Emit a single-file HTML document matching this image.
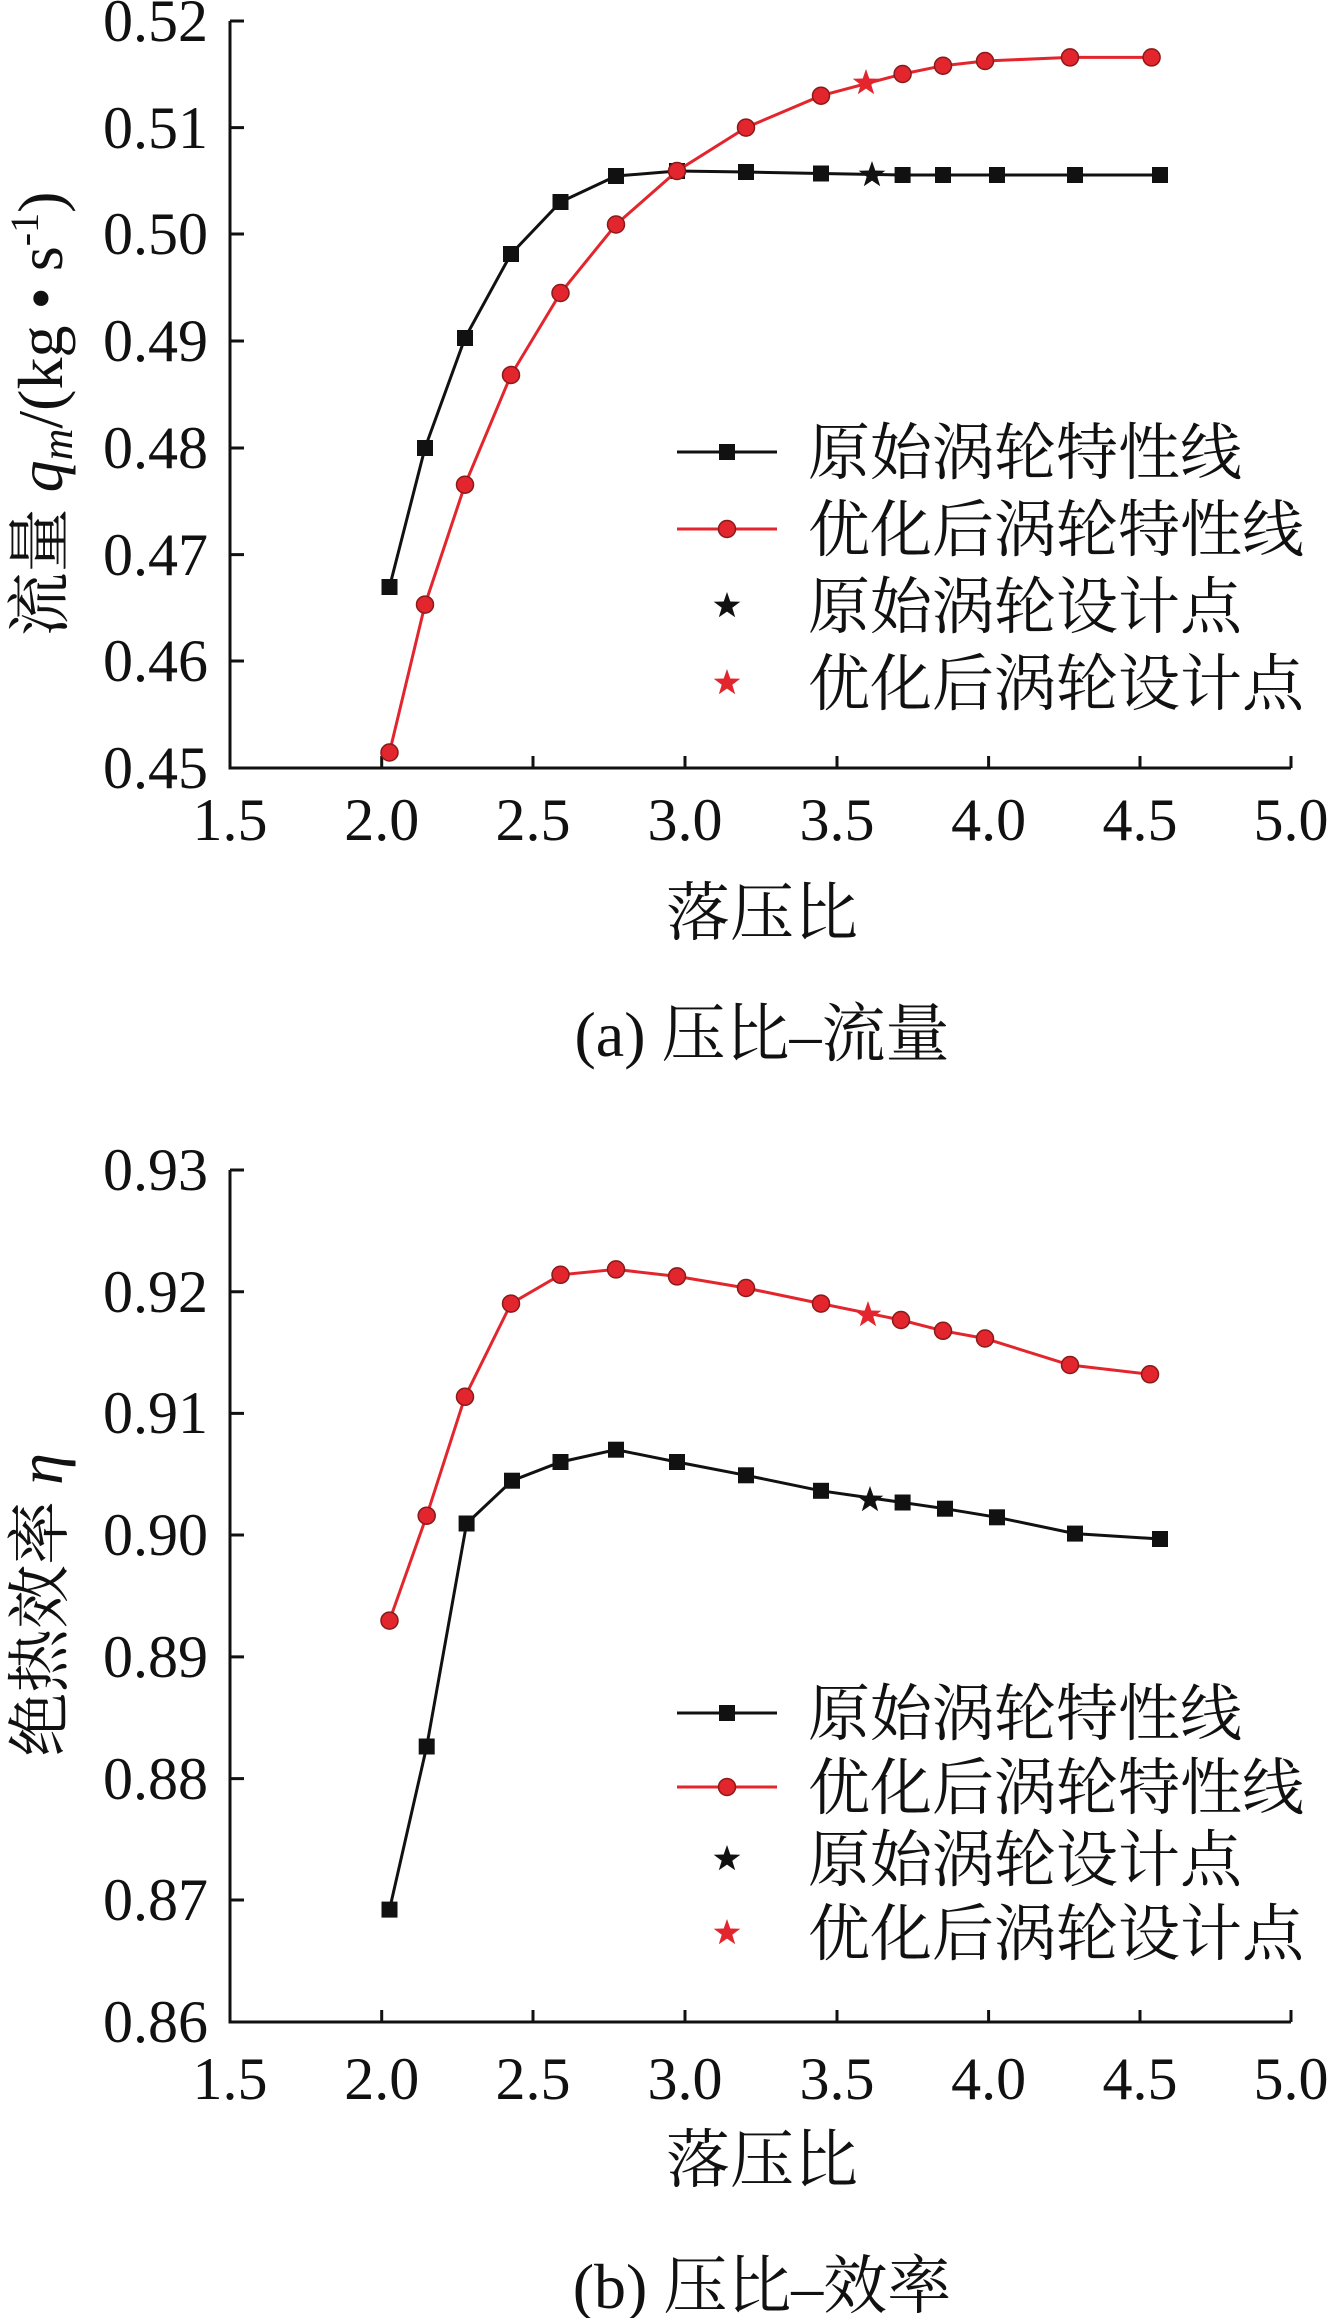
<!DOCTYPE html>
<html><head><meta charset="utf-8"><style>
body{margin:0;background:#fff}
svg{display:block}
text{font-family:"Liberation Serif","Noto Serif CJK SC",serif;fill:#111}
.t{font-size:60px}
.l{font-size:62px}
.x{font-size:64px}
</style></head><body>
<svg width="1328" height="2318" viewBox="0 0 1328 2318" xmlns="http://www.w3.org/2000/svg">
<defs>
<rect id="sq" x="-8" y="-8" width="16" height="16" fill="#111"/>
<circle id="ci" r="8.5" fill="#e3262d" stroke="#8a1a1a" stroke-width="1.5"/>
<polygon id="st" points="0,-14 3.3,-4.5 13.3,-4.3 5.3,1.7 8.2,11.3 0,5.6 -8.2,11.3 -5.3,1.7 -13.3,-4.3 -3.3,-4.5"/>
</defs>

<!-- ===== Chart A ===== -->
<g stroke="#111" stroke-width="3" fill="none">
<polyline points="230,21 230,768 1291,768"/>
<path d="M230,21h14M230,127.6h14M230,234h14M230,341h14M230,448h14M230,554.6h14M230,661h14
M381.7,768v-12M533,768v-12M685,768v-12M837,768v-12M988.6,768v-12M1140,768v-12M1291,768v-12"/>
</g>
<g class="t" text-anchor="end">
<text x="208" y="41">0.52</text><text x="208" y="148">0.51</text><text x="208" y="254">0.50</text>
<text x="208" y="361">0.49</text><text x="208" y="468">0.48</text><text x="208" y="575">0.47</text>
<text x="208" y="681">0.46</text><text x="208" y="788">0.45</text>
</g>
<g class="t" text-anchor="middle">
<text x="230" y="840">1.5</text><text x="381.7" y="840">2.0</text><text x="533" y="840">2.5</text>
<text x="685" y="840">3.0</text><text x="837" y="840">3.5</text><text x="988.6" y="840">4.0</text>
<text x="1140" y="840">4.5</text><text x="1291" y="840">5.0</text>
</g>
<text class="x" x="762" y="935" text-anchor="middle">落压比</text>
<text class="x" x="762" y="1056" text-anchor="middle">(a) 压比–流量</text>
<text class="x" transform="translate(62,414) rotate(-90)" text-anchor="middle">流量 <tspan font-style="italic">q</tspan><tspan font-style="italic" font-size="44" dy="10">m</tspan><tspan dy="-10">/(kg • s</tspan><tspan font-size="40" dy="-24">-1</tspan><tspan dy="24">)</tspan></text>

<polyline fill="none" stroke="#111" stroke-width="3" points="389.5,587 425,448 465,338 511,254 560.5,202 616,176 677,171 746,172 821,173.5 902.6,175 943,175 997,175 1075,175 1160,175"/>
<g><use href="#sq" x="389.5" y="587"/><use href="#sq" x="425" y="448"/><use href="#sq" x="465" y="338"/><use href="#sq" x="511" y="254"/><use href="#sq" x="560.5" y="202"/><use href="#sq" x="616" y="176"/><use href="#sq" x="677" y="171"/><use href="#sq" x="746" y="172"/><use href="#sq" x="821" y="173.5"/><use href="#sq" x="902.6" y="175"/><use href="#sq" x="943" y="175"/><use href="#sq" x="997" y="175"/><use href="#sq" x="1075" y="175"/><use href="#sq" x="1160" y="175"/></g>
<use href="#st" x="872" y="175" fill="#111"/>
<polyline fill="none" stroke="#e3262d" stroke-width="3" points="389.5,752.5 425,604.6 465,484.7 511,375 560.5,293 616,224.5 677,171 746,127.6 821,95.7 902.6,74 943,65.7 985,61 1070,57.4 1151.6,57.4"/>
<g><use href="#ci" x="389.5" y="752.5"/><use href="#ci" x="425" y="604.6"/><use href="#ci" x="465" y="484.7"/><use href="#ci" x="511" y="375"/><use href="#ci" x="560.5" y="293"/><use href="#ci" x="616" y="224.5"/><use href="#ci" x="677" y="171"/><use href="#ci" x="746" y="127.6"/><use href="#ci" x="821" y="95.7"/><use href="#ci" x="902.6" y="74"/><use href="#ci" x="943" y="65.7"/><use href="#ci" x="985" y="61"/><use href="#ci" x="1070" y="57.4"/><use href="#ci" x="1151.6" y="57.4"/></g>
<use href="#st" x="866" y="83" fill="#e3262d"/>

<g>
<line x1="677" y1="452" x2="777" y2="452" stroke="#111" stroke-width="3"/><use href="#sq" x="727" y="452"/>
<line x1="677" y1="529" x2="777" y2="529" stroke="#e3262d" stroke-width="3"/><use href="#ci" x="727" y="529"/>
<use href="#st" x="727" y="606" fill="#111"/>
<use href="#st" x="727" y="683" fill="#e3262d"/>
<text class="l" x="808" y="474">原始涡轮特性线</text>
<text class="l" x="808" y="551">优化后涡轮特性线</text>
<text class="l" x="808" y="628">原始涡轮设计点</text>
<text class="l" x="808" y="705">优化后涡轮设计点</text>
</g>

<!-- ===== Chart B ===== -->
<g stroke="#111" stroke-width="3" fill="none">
<polyline points="230,1170 230,2022 1291,2022"/>
<path d="M230,1170h14M230,1291.7h14M230,1413.4h14M230,1535h14M230,1656.9h14M230,1778.6h14M230,1900h14
M381.7,2022v-12M533,2022v-12M685,2022v-12M837,2022v-12M988.6,2022v-12M1140,2022v-12M1291,2022v-12"/>
</g>
<g class="t" text-anchor="end">
<text x="208" y="1190">0.93</text><text x="208" y="1312">0.92</text><text x="208" y="1433">0.91</text>
<text x="208" y="1555">0.90</text><text x="208" y="1677">0.89</text><text x="208" y="1799">0.88</text>
<text x="208" y="1920">0.87</text><text x="208" y="2042">0.86</text>
</g>
<g class="t" text-anchor="middle">
<text x="230" y="2099">1.5</text><text x="381.7" y="2099">2.0</text><text x="533" y="2099">2.5</text>
<text x="685" y="2099">3.0</text><text x="837" y="2099">3.5</text><text x="988.6" y="2099">4.0</text>
<text x="1140" y="2099">4.5</text><text x="1291" y="2099">5.0</text>
</g>
<text class="x" x="762" y="2182" text-anchor="middle">落压比</text>
<text class="x" x="762" y="2308" text-anchor="middle">(b) 压比–效率</text>
<text class="x" transform="translate(62,1605) rotate(-90)" text-anchor="middle">绝热效率 <tspan font-style="italic">η</tspan></text>

<polyline fill="none" stroke="#111" stroke-width="3" points="389.5,1909.6 426.7,1746.5 466.6,1523.5 512,1480.7 560.5,1462 616,1449.7 677,1462 746,1475.3 821,1490.8 902.6,1502.5 945,1508.7 997,1517.3 1075,1533.6 1160,1539"/>
<g><use href="#sq" x="389.5" y="1909.6"/><use href="#sq" x="426.7" y="1746.5"/><use href="#sq" x="466.6" y="1523.5"/><use href="#sq" x="512" y="1480.7"/><use href="#sq" x="560.5" y="1462"/><use href="#sq" x="616" y="1449.7"/><use href="#sq" x="677" y="1462"/><use href="#sq" x="746" y="1475.3"/><use href="#sq" x="821" y="1490.8"/><use href="#sq" x="902.6" y="1502.5"/><use href="#sq" x="945" y="1508.7"/><use href="#sq" x="997" y="1517.3"/><use href="#sq" x="1075" y="1533.6"/><use href="#sq" x="1160" y="1539"/></g>
<use href="#st" x="870" y="1500" fill="#111"/>
<polyline fill="none" stroke="#e3262d" stroke-width="3" points="389.5,1620.6 426.7,1515.7 465,1396.8 511,1303.6 560.5,1274.8 616,1269.4 677,1276.4 746,1288 821,1303.6 901,1320 943,1330.8 985,1338.5 1070,1365 1150,1374.3"/>
<g><use href="#ci" x="389.5" y="1620.6"/><use href="#ci" x="426.7" y="1515.7"/><use href="#ci" x="465" y="1396.8"/><use href="#ci" x="511" y="1303.6"/><use href="#ci" x="560.5" y="1274.8"/><use href="#ci" x="616" y="1269.4"/><use href="#ci" x="677" y="1276.4"/><use href="#ci" x="746" y="1288"/><use href="#ci" x="821" y="1303.6"/><use href="#ci" x="901" y="1320"/><use href="#ci" x="943" y="1330.8"/><use href="#ci" x="985" y="1338.5"/><use href="#ci" x="1070" y="1365"/><use href="#ci" x="1150" y="1374.3"/></g>
<use href="#st" x="868" y="1315" fill="#e3262d"/>

<g>
<line x1="677" y1="1713" x2="777" y2="1713" stroke="#111" stroke-width="3"/><use href="#sq" x="727" y="1713"/>
<line x1="677" y1="1787" x2="777" y2="1787" stroke="#e3262d" stroke-width="3"/><use href="#ci" x="727" y="1787"/>
<use href="#st" x="727" y="1859" fill="#111"/>
<use href="#st" x="727" y="1933" fill="#e3262d"/>
<text class="l" x="808" y="1735">原始涡轮特性线</text>
<text class="l" x="808" y="1809">优化后涡轮特性线</text>
<text class="l" x="808" y="1881">原始涡轮设计点</text>
<text class="l" x="808" y="1955">优化后涡轮设计点</text>
</g>
</svg>
</body></html>
